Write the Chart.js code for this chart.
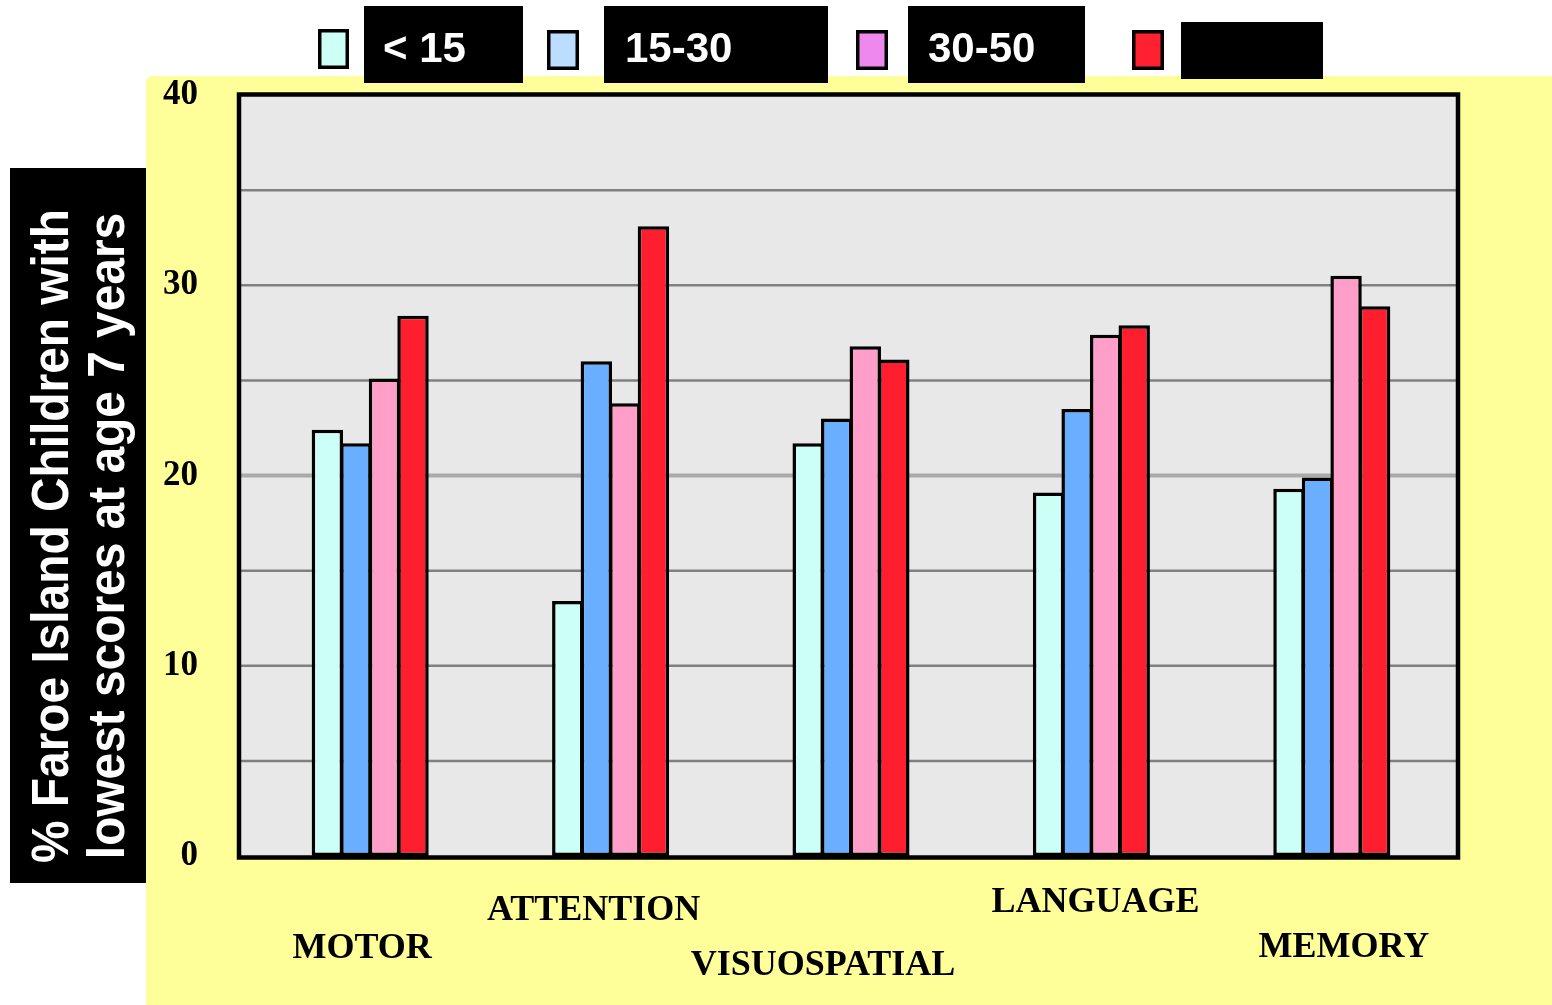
<!DOCTYPE html>
<html>
<head>
<meta charset="utf-8">
<title>Faroe Island Children – lowest scores at age 7</title>
<script src="https://cdn.jsdelivr.net/npm/chart.js@4/dist/chart.umd.min.js"></script>
<style>
  html, body { margin: 0; padding: 0; background: #ffffff; }
  #wrap { position: absolute; left: 0; top: 0; width: 1552px; height: 1005px; }
</style>
</head>
<body>
<div id="wrap"><canvas id="chart" width="1552" height="1005"></canvas></div>
<script>
// ---- data ----
const categories = ['MOTOR', 'ATTENTION', 'VISUOSPATIAL', 'LANGUAGE', 'MEMORY'];
const legendLabels = ['< 15', '15-30', '30-50', ''];
const yTickLabels = [0, 10, 20, 30, 40];
const groupUnder15 = [22.4, 13.4, 21.7, 19.1, 19.3];
const group15to30 = [21.7, 26.0, 23.0, 23.5, 19.9];
const group30to50 = [25.1, 23.8, 26.8, 27.4, 30.5];
const groupTop = [28.4, 33.1, 26.1, 27.9, 28.9];
const yAxisTitle = ['% Faroe Island Children with', 'lowest scores at age 7 years'];

// ---- style ----
const barColors = ['#ccfff5', '#6aaeff', '#ff9ec8', '#ff1e2d'];
const swatchColors = ['#ccfff5', '#bbddff', '#ee88ee', '#ff2030'];
const legendLayout = [
  { swatch: [320, 31, 27, 36], box: [364, 6, 159, 77], textX: 383 },
  { swatch: [549, 32, 28, 36], box: [604, 6, 224, 77], textX: 625 },
  { swatch: [858, 32, 28, 36], box: [908, 6, 177, 77], textX: 928 },
  { swatch: [1134, 32, 28, 36], box: [1181, 22, 142, 57], textX: 1200 }
];
// the framed plot panel reaches a little beyond the category band on each side
const frameExtendLeft = 10;
const frameExtendRight = 7;
// horizontal shift from the category centre and text baseline for each category name
const catLabelShift = [-8, -17, -28, 4, 12];
const catLabelBaseline = [958, 920, 975, 912, 957];

const serifBold = 'bold 36px "Liberation Serif", "Times New Roman", serif';

function panelBox(chart) {
  const a = chart.chartArea;
  return { left: a.left - frameExtendLeft, right: a.right + frameExtendRight, top: a.top, bottom: a.bottom };
}

const decorPlugin = {
  id: 'decor',
  beforeDraw(chart) {
    const ctx = chart.ctx;
    const p = panelBox(chart);
    ctx.save();
    ctx.fillStyle = '#ffffff';
    ctx.fillRect(0, 0, chart.width, chart.height);
    // yellow panel
    ctx.fillStyle = '#ffff99';
    ctx.beginPath();
    ctx.roundRect(146, 76, 1552 - 146, 1005 - 76, [6, 0, 0, 0]);
    ctx.fill();
    // black y-title box
    ctx.fillStyle = '#000000';
    ctx.fillRect(10, 168, 136, 715);
    // rotated title text, condensed along its length
    ctx.fillStyle = '#ffffff';
    ctx.font = 'bold 52px "Liberation Sans", Arial, sans-serif';
    const sx = 654 / ctx.measureText(yAxisTitle[0]).width;
    ctx.translate(78, 536);
    ctx.rotate(-Math.PI / 2);
    ctx.scale(sx, 1);
    ctx.textAlign = 'center';
    ctx.textBaseline = 'alphabetic';
    ctx.fillText(yAxisTitle[0], 0, -10);
    ctx.fillText(yAxisTitle[1], 0, 46);
    ctx.restore();
    // plot background
    ctx.save();
    ctx.fillStyle = '#e8e8e8';
    ctx.fillRect(p.left, p.top, p.right - p.left, p.bottom - p.top);
    ctx.restore();
  },
  beforeDatasetsDraw(chart) {
    const ctx = chart.ctx;
    const p = panelBox(chart);
    const ys = chart.scales.y;
    ctx.save();
    // horizontal grid lines at every tick of the value axis
    ys.ticks.forEach((t) => {
      if (t.value <= ys.min || t.value >= ys.max) return;
      const y = ys.getPixelForValue(t.value);
      ctx.beginPath();
      ctx.strokeStyle = t.value === 20 ? '#aaaaaa' : '#808080';
      ctx.lineWidth = t.value === 20 ? 4 : 2.5;
      ctx.moveTo(p.left, y);
      ctx.lineTo(p.right, y);
      ctx.stroke();
    });
    // frame
    ctx.strokeStyle = '#000000';
    ctx.lineWidth = 4.5;
    ctx.strokeRect(p.left - 1, p.top - 0.5, p.right - p.left, p.bottom - p.top + 2);
    ctx.restore();
  },
  afterDraw(chart) {
    const ctx = chart.ctx;
    ctx.save();
    // legend
    legendLayout.forEach((l, i) => {
      const [sx, sy, sw, sh] = l.swatch;
      ctx.fillStyle = '#000000';
      ctx.fillRect(sx - 2, sy - 2, sw + 4, sh + 4);
      ctx.fillStyle = swatchColors[i];
      ctx.fillRect(sx + 1.5, sy + 1.5, sw - 3, sh - 3);
      const [bx, by, bw, bh] = l.box;
      ctx.fillStyle = '#000000';
      ctx.fillRect(bx, by, bw, bh);
      if (legendLabels[i]) {
        ctx.fillStyle = '#ffffff';
        ctx.font = 'bold 42px "Liberation Sans", Arial, sans-serif';
        ctx.textAlign = 'left';
        ctx.textBaseline = 'alphabetic';
        ctx.fillText(legendLabels[i], l.textX, 62);
      }
    });
    // category names
    const xs = chart.scales.x;
    ctx.fillStyle = '#000000';
    ctx.font = serifBold;
    ctx.textAlign = 'center';
    ctx.textBaseline = 'alphabetic';
    categories.forEach((c, i) => {
      ctx.fillText(c, xs.getPixelForTick(i) + catLabelShift[i], catLabelBaseline[i]);
    });
    ctx.restore();
  }
};

const seriesValues = [groupUnder15, group15to30, group30to50, groupTop];

new Chart(document.getElementById('chart'), {
  type: 'bar',
  data: {
    labels: categories,
    datasets: seriesValues.map((vals, i) => ({
      label: legendLabels[i],
      data: vals,
      backgroundColor: barColors[i],
      borderColor: '#000000',
      borderWidth: 3.5,
      borderSkipped: false,
      categoryPercentage: 0.475,
      barPercentage: 1.1
    }))
  },
  options: {
    responsive: false,
    animation: false,
    events: [],
    layout: { padding: { left: 0, top: 95, right: 100, bottom: 149 } },
    plugins: {
      legend: { display: false },
      title: { display: false },
      tooltip: { enabled: false }
    },
    scales: {
      x: {
        ticks: { display: false },
        grid: { display: false },
        border: { display: false },
        afterFit(s) { s.height = 0; }
      },
      y: {
        min: 0,
        max: 40,
        ticks: {
          stepSize: 5,
          padding: 52,
          color: '#000000',
          font: { family: '"Liberation Serif", "Times New Roman", serif', size: 35, weight: 'bold' },
          callback: (v) => (yTickLabels.includes(v) ? String(v) : '')
        },
        grid: { display: false, drawTicks: false },
        border: { display: false },
        afterFit(s) { s.width = 250; }
      }
    }
  },
  plugins: [decorPlugin]
});
</script>
</body>
</html>
